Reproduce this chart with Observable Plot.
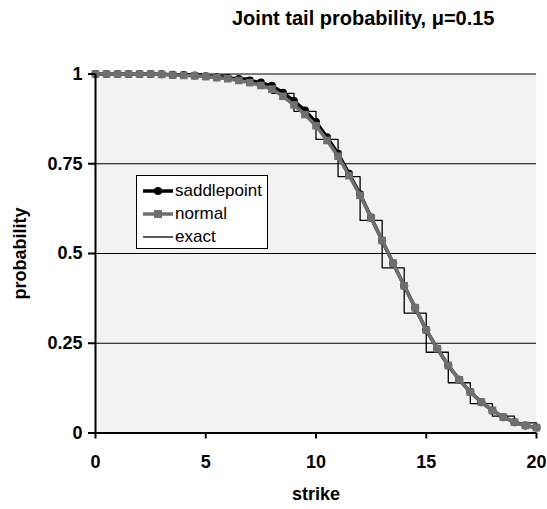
<!DOCTYPE html>
<html>
<head>
<meta charset="utf-8">
<script src="https://cdn.jsdelivr.net/npm/d3@7"></script>
<script src="https://cdn.jsdelivr.net/npm/@observablehq/plot@0.6"></script>
<style>
  html, body { margin: 0; padding: 0; background: #fff; }
  #wrap { position: relative; width: 547px; height: 509px; font-family: Arial, "Liberation Sans", sans-serif; }
  #title { position: absolute; left: 0; top: 0; width: 547px; height: 48px; }
  #title span { position: absolute; left: 232px; top: 7px; font-weight: bold; font-size: 20px; white-space: nowrap; color: #000; }
  #chart { position: absolute; left: 0; top: 48px; }
  #legend { position: absolute; left: 136px; top: 175px; width: 130px; height: 72px; background: #fff; border: 1px solid #000; box-sizing: content-box; }
  .row { position: absolute; left: 0; height: 22px; width: 130px; }
  .row svg { position: absolute; left: 4px; top: 0; }
  .row span { position: absolute; left: 38px; top: 0px; font-size: 17px; line-height: 22px; color: #000; }
</style>
</head>
<body>
<div id="wrap">
  <div id="title"><span>Joint tail probability, μ=0.15</span></div>
  <div id="chart"></div>
  <div id="legend"></div>
</div>
<script>
// ---- data ----
const strikes = [0,0.5,1,1.5,2,2.5,3,3.5,4,4.5,5,5.5,6,6.5,7,7.5,8,8.5,9,9.5,10,10.5,11,11.5,12,12.5,13,13.5,14,14.5,15,15.5,16,16.5,17,17.5,18,18.5,19,19.5,20];
const saddlepoint = [1,1,1,1,1,1,0.999,0.998,0.997,0.996,0.994,0.991,0.989,0.986,0.982,0.976,0.967,0.948,0.925,0.898,0.866,0.824,0.778,0.722,0.665,0.600,0.536,0.473,0.410,0.349,0.287,0.235,0.188,0.148,0.114,0.086,0.063,0.044,0.030,0.021,0.015];
const normal      = [1,1,1,1,1,1,0.999,0.997,0.996,0.995,0.993,0.990,0.987,0.982,0.976,0.968,0.958,0.938,0.914,0.887,0.856,0.815,0.771,0.717,0.662,0.599,0.536,0.473,0.410,0.349,0.287,0.235,0.188,0.148,0.114,0.086,0.063,0.044,0.030,0.021,0.015];
const exactStrike = [0,1,2,3,4,5,6,7,8,9,10,11,12,13,14,15,16,17,18,19,20];
const exactProb   = [1,1,1,1,1,0.997,0.989,0.973,0.946,0.896,0.818,0.714,0.592,0.460,0.334,0.225,0.140,0.082,0.047,0.028,0.028];
const xTicks = [0,5,10,15,20];
const yTicks = [0,0.25,0.5,0.75,1];
const yTickLabels = ["0","0.25","0.5","0.75","1"];
const gridValues = [0.25,0.5,0.75,1];
const seriesNames = ["saddlepoint","normal","exact"];

const sp = strikes.map((s,i) => ({x:s, y:saddlepoint[i]}));
const nm = strikes.map((s,i) => ({x:s, y:normal[i]}));
const ex = exactStrike.map((s,i) => ({x:s, y:exactProb[i]}));

const GRAY = "#6f6f6f";

const chart = Plot.plot({
  width: 547,
  height: 461,
  marginLeft: 95,
  marginRight: 11,
  marginTop: 25.5,
  marginBottom: 76.5,
  style: {fontFamily: "Arial, 'Liberation Sans', sans-serif", fontSize: "18px", fontWeight: "bold", background: "transparent", overflow: "visible"},
  x: {domain: [0, 20]},
  y: {domain: [0, 1]},
  marks: [
    Plot.frame({fill: "#f2f2f2", stroke: null}),
    Plot.ruleY(gridValues, {stroke: "#000", strokeWidth: 1}),
    Plot.line(ex, {x: "x", y: "y", curve: "step-after", stroke: "#000", strokeWidth: 1.3}),
    Plot.line(sp, {x: "x", y: "y", stroke: "#000", strokeWidth: 3.5}),
    Plot.dot(sp, {x: "x", y: "y", r: 4, fill: "#000", stroke: null}),
    Plot.line(nm, {x: "x", y: "y", stroke: GRAY, strokeWidth: 3.5}),
    Plot.dot(nm, {x: "x", y: "y", symbol: "square", r: 4.3, fill: GRAY, stroke: null}),
    Plot.ruleX([0], {stroke: "#000", strokeWidth: 2}),
    Plot.ruleY([0], {stroke: "#000", strokeWidth: 2}),
    Plot.axisX({ticks: xTicks, tickSize: 6, tickPadding: 16, strokeWidth: 2, label: "strike", labelAnchor: "center", labelArrow: "none", labelOffset: 67}),
    Plot.axisY({ticks: yTicks, tickFormat: (d) => yTickLabels[yTicks.indexOf(d)], tickSize: 7, tickPadding: 6, strokeWidth: 2, label: "probability", labelAnchor: "center", labelArrow: "none", labelOffset: 82})
  ]
});
document.getElementById("chart").appendChild(chart);

// ---- legend (HTML) ----
const legend = document.getElementById("legend");
const swatches = [
  `<svg width="34" height="22"><line x1="2" y1="11" x2="32" y2="11" stroke="#000" stroke-width="3.5"/><circle cx="17" cy="11" r="4" fill="#000"/></svg>`,
  `<svg width="34" height="22"><line x1="2" y1="11" x2="32" y2="11" stroke="${GRAY}" stroke-width="3.5"/><rect x="13" y="7" width="8" height="8" fill="${GRAY}"/></svg>`,
  `<svg width="34" height="22"><line x1="2" y1="11" x2="32" y2="11" stroke="#000" stroke-width="1.3"/></svg>`
];
seriesNames.forEach((name, i) => {
  const row = document.createElement("div");
  row.className = "row";
  row.style.top = (4 + i * 23) + "px";
  row.innerHTML = swatches[i] + `<span>${name}</span>`;
  legend.appendChild(row);
});
</script>
</body>
</html>
